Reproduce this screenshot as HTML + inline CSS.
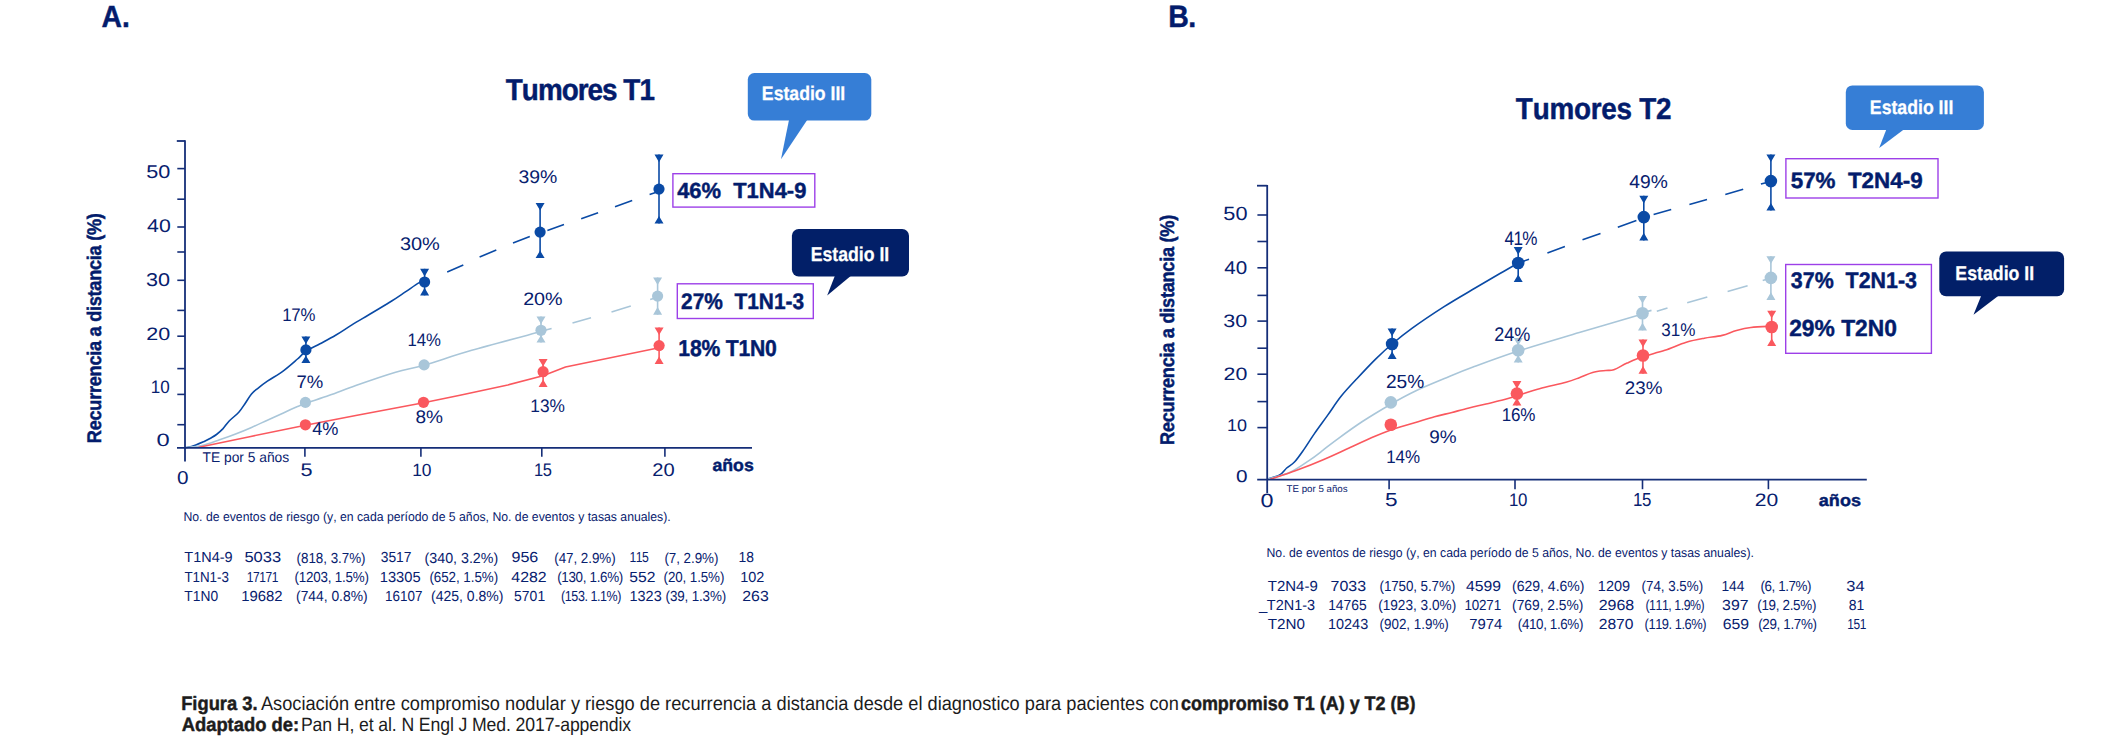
<!DOCTYPE html>
<html lang="es">
<head>
<meta charset="utf-8">
<title>Figura 3 - Tumores T1 y T2</title>
<style>
html,body{margin:0;padding:0;background:#fff;}
body{width:2111px;height:753px;overflow:hidden;}
svg{display:block;font-family:"Liberation Sans",Arial,Helvetica,sans-serif;}
text{white-space:pre;font-kerning:none;text-rendering:geometricPrecision;}
</style>
</head>
<body>
<svg width="2111" height="753" viewBox="0 0 2111 753">
<rect width="2111" height="753" fill="#ffffff"/>
<g id="chartA">
<text transform="translate(101.53 26.60) scale(0.9212 1)" font-size="30.70" font-weight="700" stroke="#031c6c" stroke-width="0.45" stroke-linejoin="round" fill="#031c6c">A.</text>
<text transform="translate(505.84 99.93) scale(0.9180 1)" font-size="30.34" font-weight="700" stroke="#031c6c" stroke-width="0.45" stroke-linejoin="round" letter-spacing="-1.062" fill="#031c6c">Tumores T1</text>
<text transform="translate(146.28 178.34) scale(1.1741 1)" font-size="18.47" fill="#07206e">50</text>
<text transform="translate(147.09 232.26) scale(1.1519 1)" font-size="18.44" fill="#07206e">40</text>
<text transform="translate(146.08 286.38) scale(1.1714 1)" font-size="18.46" fill="#07206e">30</text>
<text transform="translate(146.36 340.18) scale(1.1920 1)" font-size="18.06" fill="#07206e">20</text>
<text transform="translate(150.86 393.42) scale(0.9426 1)" font-size="18.07" fill="#07206e">10</text>
<text transform="translate(156.47 446.22) scale(1.3155 1)" font-size="18.03" fill="#07206e">0</text>
<text transform="translate(100.60 443.13) rotate(-90) scale(0.9200 1)" font-size="19.78" font-weight="700" stroke="#031c6c" stroke-width="0.45" stroke-linejoin="round" letter-spacing="-0.312" fill="#031c6c">Recurrencia a distancia (%)</text>
<text transform="translate(177.07 483.60) scale(1.1134 1)" font-size="18.64" fill="#07206e">0</text>
<text transform="translate(300.59 476.10) scale(1.1937 1)" font-size="18.16" fill="#07206e">5</text>
<text transform="translate(412.15 476.10) scale(0.9804 1)" font-size="17.72" fill="#07206e">10</text>
<text transform="translate(534.12 476.10) scale(0.9055 1)" font-size="18.16" letter-spacing="-0.635" fill="#07206e">15</text>
<text transform="translate(652.21 476.10) scale(1.1017 1)" font-size="18.27" fill="#07206e">20</text>
<text transform="translate(712.48 470.60) scale(1.0246 1)" font-size="17.25" font-weight="700" stroke="#031c6c" stroke-width="0.45" stroke-linejoin="round" fill="#031c6c">años</text>
<text transform="translate(202.49 461.70) scale(0.9784 1)" font-size="14.11" fill="#07206e">TE por 5 años</text>
<path d="M185.5 447.5C185.9 447.5 186.1 447.7 187.8 447.3C189.5 446.9 193.2 445.8 195.8 444.9C198.5 444.0 201.2 442.8 203.7 441.7C206.1 440.6 208.4 439.4 210.5 438.2C212.6 437.0 214.4 436.1 216.5 434.5C218.6 432.9 220.7 431.1 222.8 428.9C224.9 426.6 226.5 423.8 229.2 421.0C231.9 418.2 236.2 415.1 238.8 412.2C241.5 409.3 243.0 406.6 245.1 403.5C247.2 400.4 249.4 396.4 251.5 393.9C253.6 391.4 255.2 390.4 257.9 388.3C260.5 386.2 263.1 384.1 267.4 381.2C271.6 378.3 278.4 374.5 283.4 370.8C288.4 367.1 293.8 362.2 297.5 359.0C301.2 355.8 302.1 353.9 305.8 351.4C309.6 348.9 315.0 346.5 320.0 343.8C325.0 341.1 330.7 338.1 336.0 335.0C341.3 331.9 345.9 328.6 351.9 324.9C357.9 321.2 365.2 317.0 371.8 313.0C378.4 309.0 386.2 304.5 391.7 301.0C397.2 297.5 400.5 295.2 405.0 292.2C409.5 289.2 415.6 284.7 418.8 282.9C422.1 281.1 423.6 281.8 424.5 281.6" fill="none" stroke="#0a4aa5" stroke-width="1.6" stroke-linecap="round"/>
<path d="M186.0 447.5C188.7 447.2 196.3 446.9 201.9 445.6C207.5 444.3 214.0 441.7 219.6 439.8C225.2 437.9 230.3 436.1 235.6 434.0C240.9 431.9 246.2 429.7 251.5 427.4C256.8 425.1 262.1 422.6 267.4 420.2C272.7 417.8 278.4 415.2 283.4 412.9C288.4 410.6 293.8 408.2 297.5 406.6C301.2 405.0 300.2 405.3 305.5 403.4C310.8 401.5 321.0 398.3 329.4 395.3C337.8 392.3 344.8 389.4 355.8 385.5C366.8 381.6 384.2 375.6 395.6 372.2C407.0 368.8 411.3 368.8 424.0 365.2C436.7 361.6 452.2 355.9 471.7 350.3C491.2 344.7 529.5 334.7 541.0 331.6" fill="none" stroke="#a9c6d9" stroke-width="1.6" stroke-linecap="round"/>
<polyline points="199.0,447.3 249.6,436.7 305.4,425.2 355.8,415.5 423.5,402.8 460.0,395.2 507.8,385.0 543.0,375.7 565.5,367.0 659.1,347.8" fill="none" stroke="#fa585e" stroke-width="1.6" stroke-linejoin="round" stroke-linecap="round"/>
<line x1="185.0" y1="140.2" x2="185.0" y2="461.6" stroke="#152e78" stroke-width="1.8"/>
<line x1="176.8" y1="141.0" x2="185.0" y2="141.0" stroke="#152e78" stroke-width="1.8"/>
<line x1="177.3" y1="168.6" x2="185.0" y2="168.6" stroke="#152e78" stroke-width="1.6"/>
<line x1="177.3" y1="199.2" x2="185.0" y2="199.2" stroke="#152e78" stroke-width="1.6"/>
<line x1="177.3" y1="227.0" x2="185.0" y2="227.0" stroke="#152e78" stroke-width="1.6"/>
<line x1="177.3" y1="252.0" x2="185.0" y2="252.0" stroke="#152e78" stroke-width="1.6"/>
<line x1="177.3" y1="280.3" x2="185.0" y2="280.3" stroke="#152e78" stroke-width="1.6"/>
<line x1="177.3" y1="310.4" x2="185.0" y2="310.4" stroke="#152e78" stroke-width="1.6"/>
<line x1="177.3" y1="336.2" x2="185.0" y2="336.2" stroke="#152e78" stroke-width="1.6"/>
<line x1="177.3" y1="368.6" x2="185.0" y2="368.6" stroke="#152e78" stroke-width="1.6"/>
<line x1="177.3" y1="394.4" x2="185.0" y2="394.4" stroke="#152e78" stroke-width="1.6"/>
<line x1="177.3" y1="424.7" x2="185.0" y2="424.7" stroke="#152e78" stroke-width="1.6"/>
<line x1="177.0" y1="447.9" x2="752.0" y2="447.9" stroke="#152e78" stroke-width="1.8"/>
<line x1="304.9" y1="447.9" x2="304.9" y2="456.8" stroke="#152e78" stroke-width="1.6"/>
<line x1="420.9" y1="447.9" x2="420.9" y2="456.8" stroke="#152e78" stroke-width="1.6"/>
<line x1="541.8" y1="447.9" x2="541.8" y2="456.8" stroke="#152e78" stroke-width="1.6"/>
<line x1="664.9" y1="447.9" x2="664.9" y2="456.8" stroke="#152e78" stroke-width="1.6"/>
<path d="M447.2 272.0L463.3 264.9M479.6 257.0L496.3 250.1M513.0 243.1L529.8 236.5M547.4 230.4L564.0 224.5M581.2 218.7L598.1 212.8M615.0 206.8L632.2 200.6M649.6 194.6L659.4 191.2" fill="none" stroke="#0a4aa5" stroke-width="1.6"/>
<path d="M541.0 331.3L551.6 328.4M572.5 322.9L591.0 317.8M611.5 311.9L630.8 306.0M650.2 299.6L657.6 297.3" fill="none" stroke="#a9c6d9" stroke-width="1.6"/>
<path d="M305.9 336.4V363.0" stroke="#0a4aa5" stroke-width="1.6" fill="none"/>
<path d="M301.4 336.4H310.4L305.9 344.0ZM301.4 363.0H310.4L305.9 355.4Z" fill="#0a4aa5"/>
<circle cx="305.9" cy="349.9" r="5.6" fill="#0a4aa5"/>
<path d="M424.6 268.8V295.4" stroke="#0a4aa5" stroke-width="1.6" fill="none"/>
<path d="M420.1 268.8H429.1L424.6 276.4ZM420.1 295.4H429.1L424.6 287.8Z" fill="#0a4aa5"/>
<circle cx="424.6" cy="282.0" r="5.6" fill="#0a4aa5"/>
<path d="M540.1 202.9V258.1" stroke="#0a4aa5" stroke-width="1.6" fill="none"/>
<path d="M535.6 202.9H544.6L540.1 210.5ZM535.6 258.1H544.6L540.1 250.5Z" fill="#0a4aa5"/>
<circle cx="540.1" cy="232.1" r="5.6" fill="#0a4aa5"/>
<path d="M659.0 154.6V223.5" stroke="#0a4aa5" stroke-width="1.6" fill="none"/>
<path d="M654.5 154.6H663.5L659.0 162.2ZM654.5 223.5H663.5L659.0 215.9Z" fill="#0a4aa5"/>
<circle cx="659.0" cy="189.1" r="5.6" fill="#0a4aa5"/>
<circle cx="305.4" cy="402.4" r="5.6" fill="#a9c6d9"/>
<circle cx="424.1" cy="364.9" r="5.6" fill="#a9c6d9"/>
<path d="M541.0 316.5V342.5" stroke="#a9c6d9" stroke-width="1.6" fill="none"/>
<path d="M536.5 316.5H545.5L541.0 324.1ZM536.5 342.5H545.5L541.0 334.9Z" fill="#a9c6d9"/>
<circle cx="541.0" cy="330.3" r="5.6" fill="#a9c6d9"/>
<path d="M657.6 277.5V314.7" stroke="#a9c6d9" stroke-width="1.6" fill="none"/>
<path d="M653.1 277.5H662.1L657.6 285.1ZM653.1 314.7H662.1L657.6 307.1Z" fill="#a9c6d9"/>
<circle cx="657.6" cy="296.1" r="5.6" fill="#a9c6d9"/>
<circle cx="305.4" cy="424.8" r="5.6" fill="#fa585e"/>
<circle cx="423.5" cy="402.3" r="5.6" fill="#fa585e"/>
<path d="M543.1 358.9V387.1" stroke="#fa585e" stroke-width="1.6" fill="none"/>
<path d="M538.6 358.9H547.6L543.1 366.5ZM538.6 387.1H547.6L543.1 379.5Z" fill="#fa585e"/>
<circle cx="543.1" cy="371.7" r="5.6" fill="#fa585e"/>
<path d="M659.1 327.4V364.0" stroke="#fa585e" stroke-width="1.6" fill="none"/>
<path d="M654.6 327.4H663.6L659.1 335.0ZM654.6 364.0H663.6L659.1 356.4Z" fill="#fa585e"/>
<circle cx="659.1" cy="345.6" r="5.6" fill="#fa585e"/>
<text transform="translate(282.23 321.10) scale(0.9200 1)" font-size="18.24" letter-spacing="-0.243" fill="#07206e">17%</text>
<text transform="translate(399.90 250.30) scale(1.0968 1)" font-size="18.22" fill="#07206e">30%</text>
<text transform="translate(518.40 183.42) scale(1.0657 1)" font-size="18.26" fill="#07206e">39%</text>
<text transform="translate(407.44 346.26) scale(0.9207 1)" font-size="18.18" fill="#07206e">14%</text>
<text transform="translate(523.15 305.46) scale(1.0908 1)" font-size="18.09" fill="#07206e">20%</text>
<text transform="translate(296.55 388.28) scale(1.0233 1)" font-size="18.12" fill="#07206e">7%</text>
<text transform="translate(312.28 435.18) scale(0.9791 1)" font-size="18.54" fill="#07206e">4%</text>
<text transform="translate(415.45 423.26) scale(1.0534 1)" font-size="18.11" fill="#07206e">8%</text>
<text transform="translate(530.32 412.10) scale(0.9505 1)" font-size="18.23" fill="#07206e">13%</text>
<rect x="672.9" y="173.7" width="141.9" height="33.4" fill="none" stroke="#9d40e8" stroke-width="1.4"/>
<text transform="translate(677.14 197.68) scale(0.9998 1)" font-size="21.94" font-weight="700" stroke="#031c6c" stroke-width="0.45" stroke-linejoin="round" fill="#031c6c">46%  T1N4-9</text>
<rect x="677.3" y="283.8" width="136.0" height="34.7" fill="none" stroke="#9d40e8" stroke-width="1.4"/>
<text transform="translate(681.11 309.41) scale(0.9200 1)" font-size="22.71" font-weight="700" stroke="#031c6c" stroke-width="0.45" stroke-linejoin="round" letter-spacing="-0.008" fill="#031c6c">27%  T1N1-3</text>
<text transform="translate(678.34 355.56) scale(0.9200 1)" font-size="22.99" font-weight="700" stroke="#031c6c" stroke-width="0.45" stroke-linejoin="round" letter-spacing="-0.216" fill="#031c6c">18% T1N0</text>
<rect x="747.8" y="73.0" width="123.5" height="47.6" rx="6.5" fill="#367ed6"/>
<path d="M789.1 119.6L781.0 159.3L807.5 119.6Z" fill="#367ed6"/>
<text transform="translate(761.87 100.43) scale(0.8963 1)" font-size="19.72" font-weight="700" stroke="#ffffff" stroke-width="0.25" stroke-linejoin="round" fill="#ffffff">Estadio III</text>
<rect x="791.9" y="229.0" width="117.1" height="47.4" rx="6.8" fill="#021f68"/>
<path d="M835.0 275.4L827.2 295.4L851.3 275.4Z" fill="#021f68"/>
<text transform="translate(810.68 260.83) scale(0.8832 1)" font-size="20.01" font-weight="700" stroke="#ffffff" stroke-width="0.25" stroke-linejoin="round" fill="#ffffff">Estadio II</text>
<text transform="translate(183.44 520.60) scale(0.9566 1)" font-size="12.80" fill="#07206e">No. de eventos de riesgo (y, en cada período de 5 años, No. de eventos y tasas anuales).</text>
<text transform="translate(184.35 562.20) scale(0.9931 1)" font-size="14.55" fill="#07206e">T1N4-9</text>
<text transform="translate(244.39 562.20) scale(1.1336 1)" font-size="14.55" fill="#07206e">5033</text>
<text transform="translate(296.55 562.50) scale(0.9200 1)" font-size="14.55" letter-spacing="-0.019" fill="#07206e">(818, 3.7%)</text>
<text transform="translate(380.72 562.20) scale(0.9502 1)" font-size="14.55" fill="#07206e">3517</text>
<text transform="translate(424.60 562.50) scale(0.9786 1)" font-size="14.55" fill="#07206e">(340, 3.2%)</text>
<text transform="translate(511.45 562.20) scale(1.1053 1)" font-size="14.55" fill="#07206e">956</text>
<text transform="translate(554.22 562.50) scale(0.9200 1)" font-size="14.55" letter-spacing="-0.044" fill="#07206e">(47, 2.9%)</text>
<text transform="translate(629.39 562.20) scale(0.8382 1)" font-size="14.55" letter-spacing="-0.509" fill="#07206e">115</text>
<text transform="translate(664.39 562.50) scale(0.9200 1)" font-size="14.55" letter-spacing="-0.037" fill="#07206e">(7, 2.9%)</text>
<text transform="translate(738.57 562.20) scale(0.9540 1)" font-size="14.55" fill="#07206e">18</text>
<text transform="translate(184.39 581.88) scale(0.9200 1)" font-size="14.55" letter-spacing="-0.021" fill="#07206e">T1N1-3</text>
<text transform="translate(246.72 581.88) scale(0.8234 1)" font-size="14.55" letter-spacing="-0.509" fill="#07206e">17171</text>
<text transform="translate(294.39 581.70) scale(0.9200 1)" font-size="14.55" letter-spacing="-0.205" fill="#07206e">(1203, 1.5%)</text>
<text transform="translate(379.80 581.88) scale(1.0081 1)" font-size="14.55" fill="#07206e">13305</text>
<text transform="translate(429.41 581.70) scale(0.9200 1)" font-size="14.55" letter-spacing="-0.049" fill="#07206e">(652, 1.5%)</text>
<text transform="translate(511.31 581.88) scale(1.0912 1)" font-size="14.55" fill="#07206e">4282</text>
<text transform="translate(557.22 581.70) scale(0.9200 1)" font-size="14.55" letter-spacing="-0.345" fill="#07206e">(130, 1.6%)</text>
<text transform="translate(629.33 581.88) scale(1.0758 1)" font-size="14.55" fill="#07206e">552</text>
<text transform="translate(663.58 581.70) scale(0.9200 1)" font-size="14.55" letter-spacing="-0.119" fill="#07206e">(20, 1.5%)</text>
<text transform="translate(740.25 581.88) scale(0.9918 1)" font-size="14.55" fill="#07206e">102</text>
<text transform="translate(184.37 601.08) scale(0.9481 1)" font-size="14.55" fill="#07206e">T1N0</text>
<text transform="translate(241.27 601.08) scale(1.0216 1)" font-size="14.55" fill="#07206e">19682</text>
<text transform="translate(296.04 601.20) scale(0.9511 1)" font-size="14.55" fill="#07206e">(744, 0.8%)</text>
<text transform="translate(385.09 601.08) scale(0.9230 1)" font-size="14.55" fill="#07206e">16107</text>
<text transform="translate(431.02 601.20) scale(0.9637 1)" font-size="14.55" fill="#07206e">(425, 0.8%)</text>
<text transform="translate(514.12 601.08) scale(0.9582 1)" font-size="14.55" fill="#07206e">5701</text>
<text transform="translate(561.12 601.20) scale(0.8594 1)" font-size="14.55" letter-spacing="-0.509" fill="#07206e">(153. 1.1%)</text>
<text transform="translate(629.58 601.08) scale(0.9915 1)" font-size="14.55" fill="#07206e">1323</text>
<text transform="translate(665.55 601.20) scale(0.9200 1)" font-size="14.55" letter-spacing="-0.139" fill="#07206e">(39, 1.3%)</text>
<text transform="translate(742.29 601.08) scale(1.0877 1)" font-size="14.55" fill="#07206e">263</text>
</g>
<g id="chartB">
<text transform="translate(1168.30 26.68) scale(0.9200 1)" font-size="30.96" font-weight="700" stroke="#031c6c" stroke-width="0.45" stroke-linejoin="round" letter-spacing="-0.731" fill="#031c6c">B.</text>
<text transform="translate(1515.87 119.48) scale(0.9200 1)" font-size="30.27" font-weight="700" stroke="#031c6c" stroke-width="0.45" stroke-linejoin="round" letter-spacing="-0.274" fill="#031c6c">Tumores T2</text>
<text transform="translate(1223.33 220.42) scale(1.1363 1)" font-size="19.10" fill="#07206e">50</text>
<text transform="translate(1224.26 274.34) scale(1.1155 1)" font-size="18.46" fill="#07206e">40</text>
<text transform="translate(1223.36 327.26) scale(1.1930 1)" font-size="18.07" fill="#07206e">30</text>
<text transform="translate(1223.61 380.10) scale(1.1912 1)" font-size="17.95" fill="#07206e">20</text>
<text transform="translate(1227.05 431.10) scale(1.0598 1)" font-size="16.96" fill="#07206e">10</text>
<text transform="translate(1236.07 482.10) scale(1.2176 1)" font-size="17.06" fill="#07206e">0</text>
<text transform="translate(1174.20 444.93) rotate(-90) scale(0.9200 1)" font-size="19.78" font-weight="700" stroke="#031c6c" stroke-width="0.45" stroke-linejoin="round" letter-spacing="-0.307" fill="#031c6c">Recurrencia a distancia (%)</text>
<text transform="translate(1260.62 506.70) scale(1.2076 1)" font-size="19.35" fill="#07206e">0</text>
<text transform="translate(1385.00 506.10) scale(1.2042 1)" font-size="18.79" fill="#07206e">5</text>
<text transform="translate(1509.07 506.10) scale(0.9200 1)" font-size="18.31" letter-spacing="-0.537" fill="#07206e">10</text>
<text transform="translate(1633.10 506.10) scale(0.8977 1)" font-size="18.79" letter-spacing="-0.658" fill="#07206e">15</text>
<text transform="translate(1754.84 506.10) scale(1.1672 1)" font-size="18.08" fill="#07206e">20</text>
<text transform="translate(1818.84 506.30) scale(1.0814 1)" font-size="16.68" font-weight="700" stroke="#031c6c" stroke-width="0.45" stroke-linejoin="round" fill="#031c6c">años</text>
<text transform="translate(1286.59 491.90) scale(0.9959 1)" font-size="9.75" fill="#07206e">TE por 5 años</text>
<path d="M1268.5 478.8C1270.4 478.1 1277.1 476.4 1280.1 474.6C1283.1 472.8 1284.3 470.1 1286.7 468.0C1289.1 465.9 1291.8 464.9 1294.7 461.8C1297.6 458.7 1300.7 454.1 1304.0 449.4C1307.3 444.7 1310.6 439.1 1314.6 433.4C1318.6 427.6 1323.5 421.1 1327.9 414.9C1332.3 408.7 1336.2 402.4 1341.1 396.3C1346.0 390.2 1351.3 384.7 1357.1 378.5C1362.8 372.3 1369.8 364.9 1375.6 359.1C1381.4 353.4 1386.0 349.1 1392.1 344.0C1398.1 338.9 1403.3 334.6 1411.9 328.4C1420.5 322.2 1433.1 313.7 1443.7 306.9C1454.3 300.1 1466.3 293.3 1475.6 287.8C1484.9 282.3 1492.4 277.9 1499.5 273.8C1506.6 269.7 1515.1 264.8 1518.2 263.0" fill="none" stroke="#0a4aa5" stroke-width="1.6" stroke-linecap="round"/>
<path d="M1268.5 478.8C1272.2 477.6 1283.9 475.0 1290.7 471.9C1297.5 468.8 1304.0 463.9 1309.3 460.4C1314.6 456.8 1318.1 454.0 1322.5 450.6C1326.9 447.2 1329.1 445.2 1335.8 440.3C1342.5 435.4 1353.2 427.5 1362.4 421.5C1371.6 415.5 1382.0 409.3 1390.8 404.2C1399.6 399.1 1406.2 395.4 1415.5 391.0C1424.8 386.6 1436.9 381.7 1446.5 377.7C1456.1 373.7 1461.1 371.5 1473.1 367.1C1485.0 362.7 1500.5 356.9 1518.2 351.1C1535.9 345.4 1558.6 338.8 1579.3 332.6C1600.0 326.4 1632.0 317.1 1642.5 314.0" fill="none" stroke="#a9c6d9" stroke-width="1.6" stroke-linecap="round"/>
<path d="M1270.8 479.0C1275.0 477.6 1287.4 473.8 1296.0 470.6C1304.6 467.4 1313.8 463.8 1322.6 460.0C1331.4 456.2 1340.3 452.0 1349.1 448.0C1357.9 444.0 1368.6 439.1 1375.6 436.1C1382.5 433.1 1386.7 431.5 1390.8 430.0C1394.9 428.5 1395.9 428.2 1400.0 427.0C1404.1 425.8 1409.8 424.2 1415.5 422.5C1421.2 420.8 1428.4 418.5 1434.5 416.8C1440.6 415.1 1446.2 413.9 1452.0 412.4C1457.8 410.9 1463.3 409.4 1469.0 408.0C1474.7 406.6 1480.2 405.4 1486.0 404.0C1491.8 402.6 1498.4 401.2 1503.6 399.8C1508.8 398.4 1510.9 397.6 1516.9 395.8C1522.9 394.0 1531.3 391.1 1539.5 388.8C1547.7 386.5 1559.4 384.1 1566.0 382.2C1572.6 380.3 1574.9 379.3 1579.3 377.7C1583.7 376.1 1588.2 373.6 1592.6 372.4C1597.0 371.2 1602.3 370.9 1605.8 370.5C1609.3 370.1 1610.2 370.9 1613.8 369.7C1617.3 368.5 1622.2 365.3 1627.1 363.1C1632.0 360.9 1636.7 358.7 1643.0 356.6C1649.3 354.5 1657.6 352.7 1664.8 350.3C1672.0 347.9 1679.7 344.2 1686.3 342.2C1692.9 340.2 1698.3 339.3 1704.3 338.2C1710.3 337.1 1716.8 336.7 1722.2 335.4C1727.6 334.1 1731.7 331.8 1736.5 330.5C1741.3 329.2 1745.0 328.2 1750.9 327.5C1756.8 326.8 1768.5 326.4 1772.0 326.2" fill="none" stroke="#fa585e" stroke-width="1.6" stroke-linecap="round"/>
<line x1="1267.2" y1="184.9" x2="1267.2" y2="493.0" stroke="#152e78" stroke-width="1.8"/>
<line x1="1257.0" y1="185.7" x2="1267.2" y2="185.7" stroke="#152e78" stroke-width="1.8"/>
<line x1="1257.4" y1="215.0" x2="1267.2" y2="215.0" stroke="#152e78" stroke-width="1.6"/>
<line x1="1257.4" y1="241.5" x2="1267.2" y2="241.5" stroke="#152e78" stroke-width="1.6"/>
<line x1="1257.4" y1="267.8" x2="1267.2" y2="267.8" stroke="#152e78" stroke-width="1.6"/>
<line x1="1257.4" y1="295.4" x2="1267.2" y2="295.4" stroke="#152e78" stroke-width="1.6"/>
<line x1="1257.4" y1="321.1" x2="1267.2" y2="321.1" stroke="#152e78" stroke-width="1.6"/>
<line x1="1257.4" y1="348.2" x2="1267.2" y2="348.2" stroke="#152e78" stroke-width="1.6"/>
<line x1="1257.4" y1="374.2" x2="1267.2" y2="374.2" stroke="#152e78" stroke-width="1.6"/>
<line x1="1257.4" y1="401.6" x2="1267.2" y2="401.6" stroke="#152e78" stroke-width="1.6"/>
<line x1="1257.4" y1="427.6" x2="1267.2" y2="427.6" stroke="#152e78" stroke-width="1.6"/>
<line x1="1257.2" y1="479.6" x2="1866.8" y2="479.6" stroke="#152e78" stroke-width="1.8"/>
<line x1="1389.1" y1="479.6" x2="1389.1" y2="489.2" stroke="#152e78" stroke-width="1.6"/>
<line x1="1515.0" y1="479.6" x2="1515.0" y2="489.2" stroke="#152e78" stroke-width="1.6"/>
<line x1="1642.5" y1="479.6" x2="1642.5" y2="489.2" stroke="#152e78" stroke-width="1.6"/>
<line x1="1768.4" y1="479.6" x2="1768.4" y2="489.2" stroke="#152e78" stroke-width="1.6"/>
<path d="M1518.2 263.0L1529.0 259.3M1547.4 252.9L1564.9 246.4M1582.5 239.8L1600.5 233.6M1617.8 227.2L1636.4 220.4M1653.6 214.6L1671.2 209.6M1689.4 204.6L1707.0 199.6M1725.3 194.4L1743.2 189.2M1760.9 184.0L1770.9 181.4" fill="none" stroke="#0a4aa5" stroke-width="1.6"/>
<path d="M1642.9 312.6L1651.5 310.4M1656.8 311.2L1667.5 308.0M1687.2 302.7L1707.3 297.0M1727.6 291.4L1747.6 285.7M1762.7 280.6L1770.9 278.0" fill="none" stroke="#a9c6d9" stroke-width="1.6"/>
<path d="M1392.1 328.6V359.1" stroke="#0a4aa5" stroke-width="1.6" fill="none"/>
<path d="M1387.6 328.6H1396.6L1392.1 336.2ZM1387.6 359.1H1396.6L1392.1 351.5Z" fill="#0a4aa5"/>
<circle cx="1392.1" cy="344.0" r="6.3" fill="#0a4aa5"/>
<path d="M1518.2 247.1V282.1" stroke="#0a4aa5" stroke-width="1.6" fill="none"/>
<path d="M1513.7 247.1H1522.7L1518.2 254.7ZM1513.7 282.1H1522.7L1518.2 274.5Z" fill="#0a4aa5"/>
<circle cx="1518.2" cy="263.0" r="6.3" fill="#0a4aa5"/>
<path d="M1643.8 195.8V240.4" stroke="#0a4aa5" stroke-width="1.6" fill="none"/>
<path d="M1639.3 195.8H1648.3L1643.8 203.4ZM1639.3 240.4H1648.3L1643.8 232.8Z" fill="#0a4aa5"/>
<circle cx="1643.8" cy="217.1" r="6.3" fill="#0a4aa5"/>
<path d="M1770.9 154.5V210.5" stroke="#0a4aa5" stroke-width="1.6" fill="none"/>
<path d="M1766.4 154.5H1775.4L1770.9 162.1ZM1766.4 210.5H1775.4L1770.9 202.9Z" fill="#0a4aa5"/>
<circle cx="1770.9" cy="181.1" r="6.3" fill="#0a4aa5"/>
<circle cx="1390.8" cy="402.4" r="6.3" fill="#a9c6d9"/>
<path d="M1518.2 337.9V362.6" stroke="#a9c6d9" stroke-width="1.6" fill="none"/>
<path d="M1513.7 337.9H1522.7L1518.2 345.5ZM1513.7 362.6H1522.7L1518.2 355.0Z" fill="#a9c6d9"/>
<circle cx="1518.2" cy="350.2" r="6.3" fill="#a9c6d9"/>
<path d="M1642.5 295.9V330.4" stroke="#a9c6d9" stroke-width="1.6" fill="none"/>
<path d="M1638.0 295.9H1647.0L1642.5 303.5ZM1638.0 330.4H1647.0L1642.5 322.8Z" fill="#a9c6d9"/>
<circle cx="1642.5" cy="313.2" r="6.3" fill="#a9c6d9"/>
<path d="M1770.9 256.2V299.9" stroke="#a9c6d9" stroke-width="1.6" fill="none"/>
<path d="M1766.4 256.2H1775.4L1770.9 263.8ZM1766.4 299.9H1775.4L1770.9 292.3Z" fill="#a9c6d9"/>
<circle cx="1770.9" cy="277.9" r="6.3" fill="#a9c6d9"/>
<circle cx="1390.8" cy="424.7" r="6.3" fill="#fa585e"/>
<path d="M1516.9 381.1V405.6" stroke="#fa585e" stroke-width="1.6" fill="none"/>
<path d="M1512.4 381.1H1521.4L1516.9 388.7ZM1512.4 405.6H1521.4L1516.9 398.0Z" fill="#fa585e"/>
<circle cx="1516.9" cy="393.6" r="6.3" fill="#fa585e"/>
<path d="M1643.0 339.6V373.7" stroke="#fa585e" stroke-width="1.6" fill="none"/>
<path d="M1638.5 339.6H1647.5L1643.0 347.2ZM1638.5 373.7H1647.5L1643.0 366.1Z" fill="#fa585e"/>
<circle cx="1643.0" cy="355.5" r="6.3" fill="#fa585e"/>
<path d="M1771.7 310.7V346.0" stroke="#fa585e" stroke-width="1.6" fill="none"/>
<path d="M1767.2 310.7H1776.2L1771.7 318.3ZM1767.2 346.0H1776.2L1771.7 338.4Z" fill="#fa585e"/>
<circle cx="1771.7" cy="327.0" r="6.3" fill="#fa585e"/>
<text transform="translate(1385.94 388.42) scale(1.0025 1)" font-size="19.09" fill="#07206e">25%</text>
<text transform="translate(1386.17 463.26) scale(0.9241 1)" font-size="18.35" fill="#07206e">14%</text>
<text transform="translate(1429.14 443.30) scale(1.0386 1)" font-size="18.22" fill="#07206e">9%</text>
<text transform="translate(1504.52 245.10) scale(0.8764 1)" font-size="19.50" letter-spacing="-0.682" fill="#07206e">41%</text>
<text transform="translate(1494.15 340.70) scale(0.9203 1)" font-size="19.64" fill="#07206e">24%</text>
<text transform="translate(1501.78 421.10) scale(0.9200 1)" font-size="18.51" letter-spacing="-0.268" fill="#07206e">16%</text>
<text transform="translate(1629.28 188.38) scale(1.0387 1)" font-size="18.49" fill="#07206e">49%</text>
<text transform="translate(1661.37 336.34) scale(0.9367 1)" font-size="18.23" fill="#07206e">31%</text>
<text transform="translate(1624.75 394.26) scale(1.0347 1)" font-size="18.15" fill="#07206e">23%</text>
<rect x="1785.9" y="158.7" width="152.1" height="39.3" fill="none" stroke="#9d40e8" stroke-width="1.4"/>
<text transform="translate(1790.69 187.82) scale(1.0062 1)" font-size="22.25" font-weight="700" stroke="#031c6c" stroke-width="0.45" stroke-linejoin="round" fill="#031c6c">57%  T2N4-9</text>
<rect x="1785.7" y="264.5" width="145.7" height="88.8" fill="none" stroke="#9d40e8" stroke-width="1.4"/>
<text transform="translate(1790.85 287.64) scale(0.9447 1)" font-size="22.67" font-weight="700" stroke="#031c6c" stroke-width="0.45" stroke-linejoin="round" fill="#031c6c">37%  T2N1-3</text>
<text transform="translate(1789.14 335.71) scale(0.9856 1)" font-size="23.17" font-weight="700" stroke="#031c6c" stroke-width="0.45" stroke-linejoin="round" fill="#031c6c">29% T2N0</text>
<rect x="1845.8" y="85.4" width="138.1" height="44.5" rx="6.5" fill="#367ed6"/>
<path d="M1886.5 128.9L1879.2 148.0L1904.5 128.9Z" fill="#367ed6"/>
<text transform="translate(1869.84 113.68) scale(0.8936 1)" font-size="19.80" font-weight="700" stroke="#ffffff" stroke-width="0.25" stroke-linejoin="round" fill="#ffffff">Estadio III</text>
<rect x="1939.3" y="251.6" width="124.8" height="44.6" rx="6.8" fill="#021f68"/>
<path d="M1981.4 295.2L1973.5 314.8L1999.1 295.2Z" fill="#021f68"/>
<text transform="translate(1955.36 280.03) scale(0.8925 1)" font-size="19.87" font-weight="700" stroke="#ffffff" stroke-width="0.25" stroke-linejoin="round" fill="#ffffff">Estadio II</text>
<text transform="translate(1266.48 556.50) scale(0.9569 1)" font-size="12.80" fill="#07206e">No. de eventos de riesgo (y, en cada período de 5 años, No. de eventos y tasas anuales).</text>
<text transform="translate(1267.83 591.00) scale(1.0285 1)" font-size="14.55" fill="#07206e">T2N4-9</text>
<text transform="translate(1330.57 591.00) scale(1.0960 1)" font-size="14.55" fill="#07206e">7033</text>
<text transform="translate(1379.55 591.00) scale(0.9200 1)" font-size="14.55" letter-spacing="-0.102" fill="#07206e">(1750, 5.7%)</text>
<text transform="translate(1466.07 591.00) scale(1.0808 1)" font-size="14.55" fill="#07206e">4599</text>
<text transform="translate(1512.02 591.00) scale(0.9637 1)" font-size="14.55" fill="#07206e">(629, 4.6%)</text>
<text transform="translate(1597.81 591.00) scale(0.9973 1)" font-size="14.55" fill="#07206e">1209</text>
<text transform="translate(1641.55 591.00) scale(0.9200 1)" font-size="14.55" letter-spacing="-0.019" fill="#07206e">(74, 3.5%)</text>
<text transform="translate(1721.40 591.00) scale(0.9473 1)" font-size="14.55" fill="#07206e">144</text>
<text transform="translate(1760.49 591.00) scale(0.9200 1)" font-size="14.55" letter-spacing="-0.438" fill="#07206e">(6, 1.7%)</text>
<text transform="translate(1846.33 591.00) scale(1.1307 1)" font-size="14.55" fill="#07206e">34</text>
<text transform="translate(1259.02 610.40) scale(1.0268 1)" font-size="14.55" fill="#07206e">_</text>
<text transform="translate(1266.86 610.22) scale(0.9881 1)" font-size="14.63" fill="#07206e">T2N1-3</text>
<text transform="translate(1328.14 610.16) scale(0.9525 1)" font-size="14.55" fill="#07206e">14765</text>
<text transform="translate(1378.17 610.40) scale(0.9368 1)" font-size="14.55" fill="#07206e">(1923, 3.0%)</text>
<text transform="translate(1464.51 610.16) scale(0.9200 1)" font-size="14.55" letter-spacing="-0.176" fill="#07206e">10271</text>
<text transform="translate(1512.04 610.40) scale(0.9483 1)" font-size="14.55" fill="#07206e">(769, 2.5%)</text>
<text transform="translate(1598.64 610.16) scale(1.0990 1)" font-size="14.55" fill="#07206e">2968</text>
<text transform="translate(1645.42 610.40) scale(0.8444 1)" font-size="14.55" letter-spacing="-0.509" fill="#07206e">(111, 1.9%)</text>
<text transform="translate(1722.12 610.16) scale(1.0893 1)" font-size="14.55" fill="#07206e">397</text>
<text transform="translate(1757.22 610.40) scale(0.9200 1)" font-size="14.55" letter-spacing="-0.317" fill="#07206e">(19, 2.5%)</text>
<text transform="translate(1848.77 610.16) scale(0.9590 1)" font-size="14.56" fill="#07206e">81</text>
<text transform="translate(1267.79 629.16) scale(1.0450 1)" font-size="14.55" fill="#07206e">T2N0</text>
<text transform="translate(1328.01 629.16) scale(0.9932 1)" font-size="14.55" fill="#07206e">10243</text>
<text transform="translate(1379.53 629.40) scale(0.9211 1)" font-size="14.55" fill="#07206e">(902, 1.9%)</text>
<text transform="translate(1469.32 629.16) scale(1.0208 1)" font-size="14.55" fill="#07206e">7974</text>
<text transform="translate(1517.82 629.40) scale(0.9200 1)" font-size="14.55" letter-spacing="-0.399" fill="#07206e">(410, 1.6%)</text>
<text transform="translate(1598.73 629.16) scale(1.0736 1)" font-size="14.55" fill="#07206e">2870</text>
<text transform="translate(1644.60 629.40) scale(0.8837 1)" font-size="14.55" letter-spacing="-0.509" fill="#07206e">(119. 1.6%)</text>
<text transform="translate(1722.81 629.16) scale(1.0847 1)" font-size="14.55" fill="#07206e">659</text>
<text transform="translate(1758.22 629.40) scale(0.9200 1)" font-size="14.55" letter-spacing="-0.364" fill="#07206e">(29, 1.7%)</text>
<text transform="translate(1847.27 629.16) scale(0.8196 1)" font-size="14.55" letter-spacing="-0.509" fill="#07206e">151</text>
</g>
<g id="caption">
<text transform="translate(181.14 709.50) scale(0.9410 1)" font-size="19.49" font-weight="700" stroke="#1c1c1c" stroke-width="0.45" stroke-linejoin="round" fill="#1c1c1c">Figura 3.</text>
<text transform="translate(260.89 709.50) scale(0.9354 1)" font-size="19.49" fill="#1c1c1c">Asociación entre compromiso nodular y riesgo de recurrencia a distancia desde el diagnostico para pacientes con</text>
<text transform="translate(1180.92 709.50) scale(0.9222 1)" font-size="19.49" font-weight="700" stroke="#1c1c1c" stroke-width="0.45" stroke-linejoin="round" fill="#1c1c1c">compromiso T1 (A) y T2 (B)</text>
<text transform="translate(181.68 730.70) scale(0.9576 1)" font-size="19.20" font-weight="700" stroke="#1c1c1c" stroke-width="0.45" stroke-linejoin="round" fill="#1c1c1c">Adaptado de:</text>
<text transform="translate(300.95 730.70) scale(0.9200 1)" font-size="19.20" letter-spacing="-0.123" fill="#1c1c1c">Pan H, et al. N Engl J Med. 2017-appendix</text>
</g>
</svg>
</body>
</html>
